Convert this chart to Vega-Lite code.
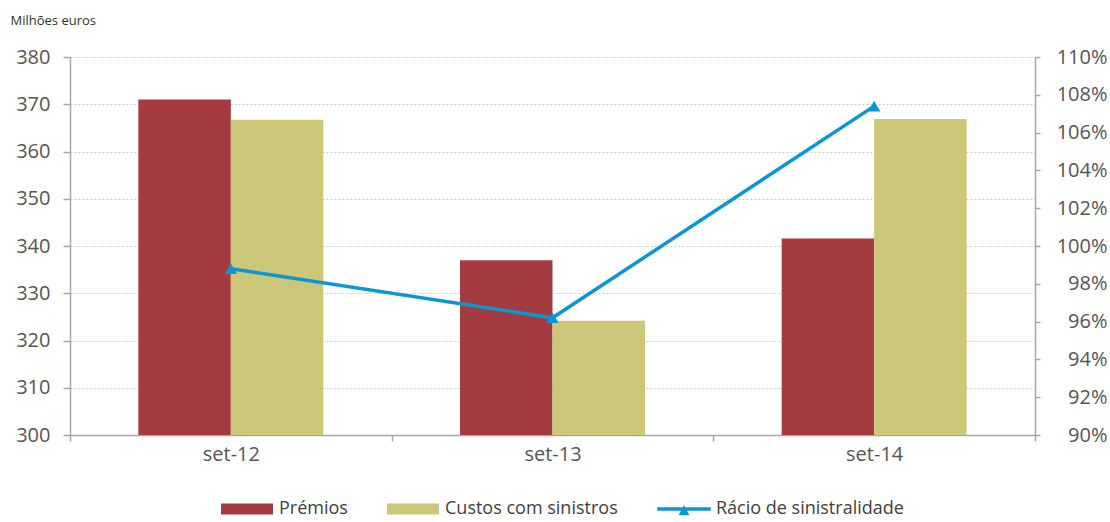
{
  "$schema": "https://vega.github.io/schema/vega-lite/v6.json",
  "width": 965,
  "height": 378,
  "autosize": {"type": "none"},
  "padding": {"left": 70, "top": 57, "right": 75, "bottom": 87},
  "config": {
    "font": "Open Sans",
    "view": {"stroke": null},
    "axis": {"labelColor": "#555555", "domainColor": "#a6a6a6", "tickColor": "#a6a6a6", "domainWidth": 1.5, "tickWidth": 1.5}
  },
  "datasets": {
    "bars": [
      {"periodo": "set-12", "serie": "Prémios", "valor": 371.0},
      {"periodo": "set-12", "serie": "Custos com sinistros", "valor": 366.7},
      {"periodo": "set-13", "serie": "Prémios", "valor": 337.0},
      {"periodo": "set-13", "serie": "Custos com sinistros", "valor": 324.2},
      {"periodo": "set-14", "serie": "Prémios", "valor": 341.6},
      {"periodo": "set-14", "serie": "Custos com sinistros", "valor": 366.9}
    ],
    "ratio": [
      {"periodo": "set-12", "racio": 0.988},
      {"periodo": "set-13", "racio": 0.962},
      {"periodo": "set-14", "racio": 1.074}
    ]
  },
  "layer": [
    {
      "data": {"name": "bars"},
      "mark": {"type": "bar"},
      "encoding": {
        "x": {
          "field": "periodo", "type": "nominal",
          "scale": {"domain": ["set-12", "set-13", "set-14"], "paddingInner": 0, "paddingOuter": 0},
          "axis": {"orient": "bottom", "title": null, "labelAngle": 0, "labelFontSize": 20, "tickBand": "extent", "tickSize": 6, "labelPadding": 3}
        },
        "xOffset": {
          "field": "serie", "type": "nominal",
          "scale": {"domain": ["Prémios", "Custos com sinistros"], "paddingInner": 0, "paddingOuter": 0.739}
        },
        "y": {
          "field": "valor", "type": "quantitative",
          "scale": {"domain": [300, 380], "nice": false, "zero": false},
          "axis": {
            "orient": "left",
            "values": [300, 310, 320, 330, 340, 350, 360, 370, 380],
            "labelFontSize": 20, "tickSize": 7, "labelPadding": 13,
            "grid": true, "gridDash": [2, 2], "gridColor": "#c8c8c8", "gridWidth": 1,
            "title": "Milhões euros", "titleAngle": 0, "titleX": -60, "titleY": -33,
            "titleAlign": "left", "titleBaseline": "alphabetic", "titleFontSize": 13,
            "titleFontWeight": "normal", "titleColor": "#333333"
          }
        },
        "y2": {"datum": 300},
        "color": {
          "field": "serie", "type": "nominal",
          "scale": {
            "domain": ["Prémios", "Custos com sinistros", "Rácio de sinistralidade"],
            "range": ["#a33b40", "#cdc77a", "#0b97d4"]
          },
          "legend": {
            "orient": "none", "legendX": 151, "legendY": 426,
            "direction": "horizontal", "title": null,
            "symbolSize": 2704, "labelFontSize": 18, "labelColor": "#404040", "labelLimit": 400,
            "columnPadding": 39, "labelOffset": 6, "padding": 0,
            "encode": {
              "symbols": {
                "update": {
                  "shape": {"signal": "datum.value === 'Rácio de sinistralidade' ? 'M-1.03,-0.065H1.03V0.065H-1.03Z M-0.21,0.24L0,-0.15L0.21,0.24Z' : 'M-1,-0.21H1V0.21H-1Z'"},
                  "fill": {"scale": "color", "field": "value"},
                  "stroke": {"value": "transparent"},
                  "strokeWidth": {"value": 0},
                  "opacity": {"value": 1},
                  "fillOpacity": {"value": 1}
                }
              }
            }
          }
        }
      }
    },
    {
      "data": {"name": "ratio"},
      "mark": {"type": "line", "strokeWidth": 3.5, "point": {"shape": "triangle-up", "size": 150, "filled": true}},
      "encoding": {
        "x": {"field": "periodo", "type": "nominal"},
        "y": {
          "field": "racio", "type": "quantitative",
          "scale": {"domain": [0.9, 1.1], "nice": false, "zero": false},
          "axis": {
            "orient": "right", "title": null, "format": ".0%",
            "values": [0.9, 0.92, 0.94, 0.96, 0.98, 1.0, 1.02, 1.04, 1.06, 1.08, 1.1],
            "labelFontSize": 20, "tickSize": 5, "labelPadding": 67, "labelAlign": "right",
            "grid": false, "labelOverlap": false
          }
        },
        "color": {"datum": "Rácio de sinistralidade"}
      }
    }
  ],
  "resolve": {"scale": {"y": "independent"}}
}
